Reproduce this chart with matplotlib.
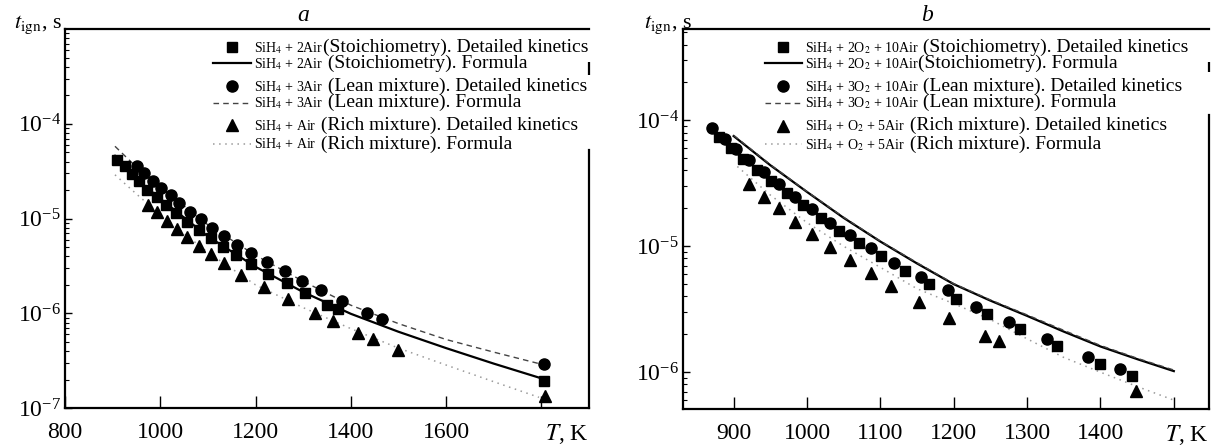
import numpy as np
import matplotlib
matplotlib.use("Agg")
import matplotlib.pyplot as plt
from matplotlib.lines import Line2D
from matplotlib.ticker import NullFormatter, LogLocator
from matplotlib.offsetbox import DrawingArea, TextArea, HPacker, AnnotationBbox

plt.rcParams['font.family'] = ['Liberation Serif', 'DejaVu Serif']
plt.rcParams['mathtext.fontset'] = 'stix'

# ---------------- panel a: SiH4 + air ----------------
a_T_stoich = [909, 925, 941, 956, 973, 994, 1013, 1034, 1057, 1081, 1106, 1131,
              1159, 1191, 1227, 1266, 1304, 1349, 1373, 1805]
a_t_stoich = [4.2e-5, 3.55e-5, 2.95e-5, 2.47e-5, 2.0e-5, 1.68e-5, 1.39e-5, 1.15e-5,
              9.2e-6, 7.5e-6, 6.2e-6, 5.0e-6, 4.1e-6, 3.3e-6, 2.6e-6, 2.08e-6,
              1.64e-6, 1.24e-6, 1.1e-6, 1.95e-7]
a_T_lean = [951, 966, 984, 1001, 1022, 1039, 1062, 1085, 1109, 1133, 1161, 1191,
            1224, 1261, 1297, 1337, 1382, 1433, 1465, 1805]
a_t_lean = [3.6e-5, 3.0e-5, 2.5e-5, 2.1e-5, 1.76e-5, 1.45e-5, 1.18e-5, 9.8e-6,
            8.0e-6, 6.5e-6, 5.3e-6, 4.35e-6, 3.5e-6, 2.8e-6, 2.2e-6, 1.75e-6,
            1.36e-6, 1.02e-6, 8.7e-7, 2.9e-7]
a_T_rich = [974, 994, 1015, 1035, 1056, 1081, 1107, 1133, 1170, 1217, 1269, 1324,
            1362, 1416, 1447, 1499, 1808]
a_t_rich = [1.38e-5, 1.17e-5, 9.4e-6, 7.8e-6, 6.4e-6, 5.2e-6, 4.2e-6, 3.4e-6,
            2.55e-6, 1.88e-6, 1.42e-6, 1.02e-6, 8.3e-7, 6.25e-7, 5.35e-7, 4.15e-7,
            1.33e-7]

a_T_formula = [905, 950, 1000, 1100, 1200, 1300, 1400, 1500, 1600, 1700, 1795]
a_f_stoich = [4.6e-5, 2.6e-5, 1.62e-5, 6.5e-6, 3.1e-6, 1.68e-6, 9.9e-7, 6.4e-7,
              4.3e-7, 2.95e-7, 2.1e-7]
a_f_lean = [5.8e-5, 3.5e-5, 2.15e-5, 8.6e-6, 4.1e-6, 2.18e-6, 1.22e-6, 7.8e-7,
            5.3e-7, 3.9e-7, 2.95e-7]
a_f_rich = [2.9e-5, 1.82e-5, 1.1e-5, 4.4e-6, 2.0e-6, 1.15e-6, 6.9e-7, 4.3e-7,
            2.85e-7, 1.9e-7, 1.3e-7]

a_xticks = [800, 1000, 1200, 1400, 1600, 1800]
a_xticklabels = ['800', '1000', '1200', '1400', '1600', '']
a_yticks = [1e-7, 1e-6, 1e-5, 1e-4]

a_labels = [
    ('SiH$_4$ + 2Air', '(Stoichiometry). Detailed kinetics'),
    ('SiH$_4$ + 2Air', ' (Stoichiometry). Formula'),
    ('SiH$_4$ + 3Air', ' (Lean mixture). Detailed kinetics'),
    ('SiH$_4$ + 3Air', ' (Lean mixture). Formula'),
    ('SiH$_4$ + Air', ' (Rich mixture). Detailed kinetics'),
    ('SiH$_4$ + Air', ' (Rich mixture). Formula'),
]

# ---------------- panel b: SiH4 + O2 + air ----------------
b_T_stoich = [880, 896, 913, 932, 951, 973, 994, 1019, 1044, 1071, 1101, 1133,
              1166, 1203, 1245, 1291, 1341, 1400, 1443]
b_t_stoich = [7.4e-5, 6.0e-5, 4.9e-5, 4.0e-5, 3.3e-5, 2.67e-5, 2.13e-5, 1.69e-5,
              1.33e-5, 1.06e-5, 8.3e-6, 6.4e-6, 5.0e-6, 3.83e-6, 2.9e-6, 2.2e-6,
              1.61e-6, 1.17e-6, 9.4e-7]
b_T_lean = [870, 888, 903, 921, 941, 962, 984, 1007, 1032, 1059, 1087, 1119, 1155,
            1192, 1231, 1276, 1327, 1383, 1427]
b_t_lean = [8.7e-5, 7.1e-5, 5.9e-5, 4.8e-5, 3.86e-5, 3.1e-5, 2.47e-5, 1.96e-5,
            1.54e-5, 1.23e-5, 9.6e-6, 7.4e-6, 5.75e-6, 4.5e-6, 3.3e-6, 2.5e-6,
            1.85e-6, 1.32e-6, 1.06e-6]
b_T_rich = [921, 941, 962, 983, 1007, 1031, 1058, 1087, 1114, 1152, 1194, 1243,
            1262, 1448]
b_t_rich = [3.1e-5, 2.48e-5, 2.03e-5, 1.56e-5, 1.26e-5, 9.8e-6, 7.8e-6, 6.1e-6,
            4.8e-6, 3.6e-6, 2.68e-6, 1.95e-6, 1.76e-6, 7.1e-7]

b_T_formula = [900, 950, 1000, 1050, 1100, 1150, 1200, 1250, 1300, 1350, 1400,
               1450, 1500]
b_f_stoich = [7.5e-5, 4.4e-5, 2.7e-5, 1.68e-5, 1.09e-5, 7.3e-6, 5.0e-6, 3.7e-6,
              2.8e-6, 2.1e-6, 1.6e-6, 1.27e-6, 1.02e-6]
b_f_lean = [7.6e-5, 4.45e-5, 2.72e-5, 1.7e-5, 1.1e-5, 7.4e-6, 5.05e-6, 3.75e-6,
            2.85e-6, 2.15e-6, 1.63e-6, 1.29e-6, 1.04e-6]
b_T_formula_rich = [905, 950, 1000, 1050, 1100, 1150, 1200, 1250, 1300, 1350,
                    1400, 1450, 1500]
b_f_rich = [4.3e-5, 2.55e-5, 1.54e-5, 1.0e-5, 6.8e-6, 4.6e-6, 3.5e-6, 2.62e-6,
            1.84e-6, 1.31e-6, 1.0e-6, 7.7e-7, 6.0e-7]

b_xticks = [900, 1000, 1100, 1200, 1300, 1400, 1500]
b_xticklabels = ['900', '1000', '1100', '1200', '1300', '1400', '']
b_yticks = [1e-6, 1e-5, 1e-4]

b_labels = [
    ('SiH$_4$ + 2O$_2$ + 10Air', ' (Stoichiometry). Detailed kinetics'),
    ('SiH$_4$ + 2O$_2$ + 10Air', '(Stoichiometry). Formula'),
    ('SiH$_4$ + 3O$_2$ + 10Air', ' (Lean mixture). Detailed kinetics'),
    ('SiH$_4$ + 3O$_2$ + 10Air', ' (Lean mixture). Formula'),
    ('SiH$_4$ + O$_2$ + 5Air', ' (Rich mixture). Detailed kinetics'),
    ('SiH$_4$ + O$_2$ + 5Air', ' (Rich mixture). Formula'),
]

# styles shared by both panels
MARK = dict(color='black', linestyle='none')
SQ = dict(marker='s', markersize=7)
CI = dict(marker='o', markersize=8)
TR = dict(marker='^', markersize=8)
SOLID = dict(color='black', linestyle='-', linewidth=1.6)
DASH = dict(color='#444444', linestyle=(0, (4, 3)), linewidth=1.0)
DOT = dict(color='#9a9a9a', linestyle=(0, (1, 3)), linewidth=1.1)
SPINE_W = 1.6

fig = plt.figure(figsize=(12.21, 4.48), dpi=100)
ax_a = fig.add_axes([0.0532, 0.089, 0.4292, 0.846])
ax_b = fig.add_axes([0.5594, 0.087, 0.4308, 0.848])


def legend_row(ax, x, y, style, formula, desc):
    da = DrawingArea(27, 8, 0, 0)
    if 'marker' in style:
        da.add_artist(Line2D([13.5], [4], **MARK, **style))
    else:
        da.add_artist(Line2D([0, 27], [4, 4], **style))
    t1 = TextArea(formula, textprops=dict(fontsize=10))
    t2 = TextArea(desc, textprops=dict(fontsize=14))
    txt = HPacker(children=[t1, t2], align='baseline', pad=0, sep=0)
    row = HPacker(children=[da, txt], align='center', pad=0, sep=2)
    ab = AnnotationBbox(row, (x, y), xycoords='axes fraction',
                        box_alignment=(0, 0.5), frameon=False, pad=0,
                        annotation_clip=False, zorder=6)
    ax.add_artist(ab)


def style_axes(ax, xlim, ylim, xticks, xticklabels, yticks, title, title_x,
               ylab_x, rspine_top, rspine_seg):
    ax.set_yscale('log')
    ax.set_xlim(*xlim)
    ax.set_ylim(*ylim)
    ax.set_xticks(xticks)
    ax.set_xticklabels(xticklabels)
    ax.set_yticks(yticks)
    ax.yaxis.set_minor_locator(LogLocator(base=10, subs=range(2, 10), numticks=20))
    ax.yaxis.set_minor_formatter(NullFormatter())
    ax.tick_params(axis='x', which='major', direction='in', length=8.5, width=1.0,
                   labelsize=17, pad=10, top=False)
    ax.tick_params(axis='y', which='major', direction='in', length=5, width=1.0,
                   labelsize=17, pad=3, right=False)
    ax.tick_params(axis='y', which='minor', direction='in', length=3, width=0.8,
                   right=False)
    for sp in ax.spines.values():
        sp.set_linewidth(SPINE_W)
    # right frame line is interrupted behind the legend text
    lo, hi = np.log10(ylim[0]), np.log10(ylim[1])
    ax.spines['right'].set_bounds(ylim[0], 10 ** (lo + rspine_top * (hi - lo)))
    ax.plot([1, 1], rspine_seg, transform=ax.transAxes, color='black',
            linewidth=SPINE_W, clip_on=False, solid_capstyle='butt')
    ax.text(title_x, 1.035, title, transform=ax.transAxes, fontsize=17,
            style='italic', ha='center', va='center')
    ax.text(ylab_x, 1.012, r'$t_{\rm ign}$, s', transform=ax.transAxes,
            fontsize=16, ha='right', va='center')
    ax.text(1.0, -0.068, r'$T$, K', transform=ax.transAxes, fontsize=17,
            ha='right', va='center')


# panel a
ax_a.plot(a_T_formula, a_f_stoich, **SOLID)
ax_a.plot(a_T_formula, a_f_lean, **DASH)
ax_a.plot(a_T_formula, a_f_rich, **DOT)
ax_a.plot(a_T_stoich, a_t_stoich, **MARK, **SQ, zorder=4)
ax_a.plot(a_T_lean, a_t_lean, **MARK, **CI, zorder=4)
ax_a.plot(a_T_rich, a_t_rich, **MARK, **TR, zorder=4)
style_axes(ax_a, (800, 1900), (1e-7, 1e-3), a_xticks, a_xticklabels, a_yticks,
           'a', 0.455, -0.005, 0.68, [0.879, 0.913])

# panel b
ax_b.plot(b_T_formula, b_f_stoich, **SOLID)
ax_b.plot(b_T_formula, b_f_lean, **DASH)
ax_b.plot(b_T_formula_rich, b_f_rich, **DOT)
ax_b.plot(b_T_stoich, b_t_stoich, **MARK, **SQ, zorder=4)
ax_b.plot(b_T_lean, b_t_lean, **MARK, **CI, zorder=4)
ax_b.plot(b_T_rich, b_t_rich, **MARK, **TR, zorder=4)
style_axes(ax_b, (831, 1548), (5.1e-7, 5.3e-4), b_xticks, b_xticklabels, b_yticks,
           'b', 0.464, 0.017, 0.773, [0.886, 0.913])

styles = [SQ, SOLID, CI, DASH, TR, DOT]
rows_y = [0.952, 0.910, 0.849, 0.806, 0.746, 0.697]
for (f, d), st, yy in zip(a_labels, styles, rows_y):
    legend_row(ax_a, 0.283, yy, st, f, d)
for (f, d), st, yy in zip(b_labels, styles, rows_y):
    legend_row(ax_b, 0.155, yy, st, f, d)

fig.savefig('out.png', dpi=100)
